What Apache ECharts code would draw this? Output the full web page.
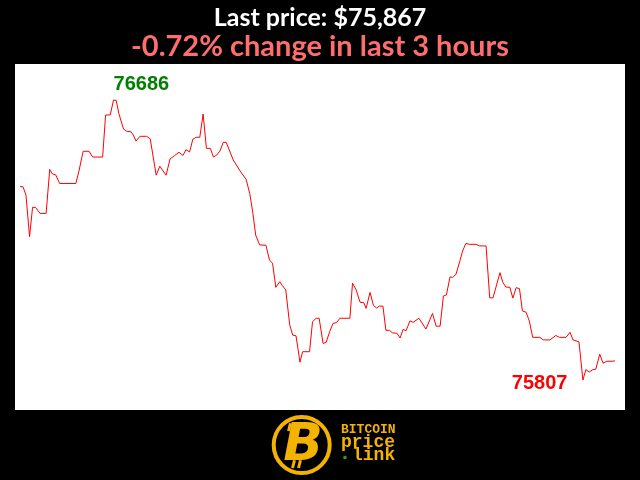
<!DOCTYPE html>
<html>
<head>
<meta charset="utf-8">
<script src="https://cdn.jsdelivr.net/npm/echarts@6/dist/echarts.min.js"></script>
<style>
html,body{margin:0;padding:0;background:#000;}
#c{width:640px;height:480px;}
</style>
</head>
<body>
<div id="c"></div>
<script>
// minutes since start of the 3-hour window
var minutes = [0,0.9,1.8,2.9,3.8,4.7,6.1,7.9,9.0,9.8,10.8,12.0,16.9,17.9,19.1,20.9,22.0,25.0,25.9,27.3,28.3,29.1,29.9,31.3,32.3,33.6,34.3,35.1,36.3,38.3,39.4,41.2,42.3,44.2,45.4,46.7,48.1,49.3,50.2,51.3,52.3,53.3,54.4,55.4,56.4,57.6,58.5,59.5,60.5,61.5,62.4,64.5,66.6,68.4,69.5,70.4,71.3,72.5,74.4,75.5,76.4,77.4,78.6,79.4,80.4,81.6,82.5,83.5,84.7,85.5,87.6,88.5,89.6,90.5,91.7,92.6,93.7,94.7,95.7,96.8,99.8,100.6,101.7,102.9,104.0,104.7,105.9,106.9,107.9,108.7,109.8,110.7,111.8,112.7,114.0,115.0,115.9,116.8,118.0,118.9,120.7,122.8,124.8,125.9,127.1,128.1,129.0,130.1,130.9,131.9,133.0,133.9,134.9,135.9,138.0,139.0,141.0,142.1,143.1,145.2,146.1,147.0,148.2,149.1,150.1,151.1,152.0,153.1,154.1,155.1,157.3,158.3,160.3,162.1,163.2,165.2,166.4,167.3,169.1,170.3,171.2,172.2,173.3,174.2,175.4,176.4,177.5,178.8,180];
// BTC price in USD
var prices = [76414,76414,76388,76257,76349,76349,76330,76330,76468,76454,76451,76424,76424,76466,76525,76525,76507,76507,76639,76639,76686,76685,76644,76595,76588,76586,76576,76557,76572,76572,76564,76450,76478,76450,76501,76511,76522,76512,76530,76523,76563,76569,76569,76642,76534,76534,76507,76513,76526,76553,76553,76498,76463,76437,76393,76335,76262,76231,76230,76183,76174,76098,76116,76103,76090,75980,75948,75946,75863,75896,75896,75990,76001,76001,75922,75925,75959,75985,75987,76001,76001,76111,76090,76051,76050,76032,76082,76042,76033,76039,76039,75963,75963,75955,75954,75939,75966,75962,75993,75988,76001,75967,76016,75976,75976,76071,76074,76131,76129,76139,76178,76212,76236,76233,76233,76228,76228,76065,76065,76144,76113,76099,76098,76064,76097,76094,76024,76020,75992,75941,75941,75933,75933,75947,75941,75941,75957,75933,75927,75807,75840,75832,75840,75841,75888,75860,75866,75866,75867];
var titleText = 'Last price: $75,867';
var subText = '-0.72% change in last 3 hours';

var data = minutes.map(function(m,i){return [m, prices[i]];});
var chart = echarts.init(document.getElementById('c'), null, {renderer:'canvas'});
var yellow = '#f5b301';
chart.setOption({
  backgroundColor:'#000',
  animation:false,
  title:[
    {text:titleText,left:'center',top:0,textStyle:{color:'#fff',fontFamily:'Lato',fontWeight:'bold',fontSize:25}},
    {text:subText,left:'center',top:27,textStyle:{color:'#ff6e6e',fontFamily:'Lato',fontWeight:'bold',fontSize:29}}
  ],
  grid:{left:15,right:15,top:64,bottom:70,show:true,backgroundColor:'#fff',borderWidth:0},
  xAxis:{type:'value',min:-1.51,max:183.03,show:false,splitLine:{show:false}},
  yAxis:{type:'value',min:75713,max:76799,show:false,splitLine:{show:false}},
  series:[{
    type:'line',
    data:data,
    showSymbol:false,
    lineStyle:{color:'#ff0000',width:1},
    markPoint:{
      symbol:'circle',symbolSize:1,
      itemStyle:{color:'rgba(0,0,0,0)'},
      data:[
        {type:'max',valueDim:'y',label:{show:true,formatter:'{c}',position:'top',distance:5,align:'left',color:'#008000',fontFamily:'Liberation Sans',fontWeight:'bold',fontSize:20}},
        {type:'min',valueDim:'y',label:{show:true,formatter:'{c}',position:'left',distance:15,offset:[0,3],color:'#ff0000',fontFamily:'Liberation Sans',fontWeight:'bold',fontSize:20}}
      ]
    }
  }],
  graphic:[
    {type:'circle',shape:{cx:301.7,cy:445,r:28},style:{fill:'#000',stroke:yellow,lineWidth:4}},
    {type:'rect',shape:{x:288,y:423,width:3,height:8},rotation:-0.25,originX:289,originY:427,style:{fill:yellow}},
    {type:'rect',shape:{x:294,y:423,width:3,height:8},rotation:-0.25,originX:295,originY:427,style:{fill:yellow}},
    {type:'rect',shape:{x:292,y:460,width:3,height:8},rotation:-0.25,originX:293,originY:464,style:{fill:yellow}},
    {type:'rect',shape:{x:298,y:460,width:3,height:8},rotation:-0.25,originX:299,originY:464,style:{fill:yellow}},
    {type:'text',x:303,y:446,style:{text:'B',fill:yellow,font:'italic bold 52px "DejaVu Sans"',textAlign:'center',textVerticalAlign:'middle'}},
    {type:'text',x:341,y:430,style:{text:'BITCOIN',fill:yellow,font:'bold 13px "Liberation Mono"',textAlign:'left',textVerticalAlign:'middle'}},
    {type:'text',x:341,y:442,style:{text:'price',fill:yellow,font:'bold 18px "Liberation Mono"',textAlign:'left',textVerticalAlign:'middle'}},
    {type:'text',x:352,y:455,style:{text:'link',fill:yellow,font:'bold 18px "Liberation Mono"',textAlign:'left',textVerticalAlign:'middle'}},
    {type:'circle',shape:{cx:345,cy:457.5,r:1.8},style:{fill:'#2aa02a'}}
  ]
});
</script>
</body>
</html>
